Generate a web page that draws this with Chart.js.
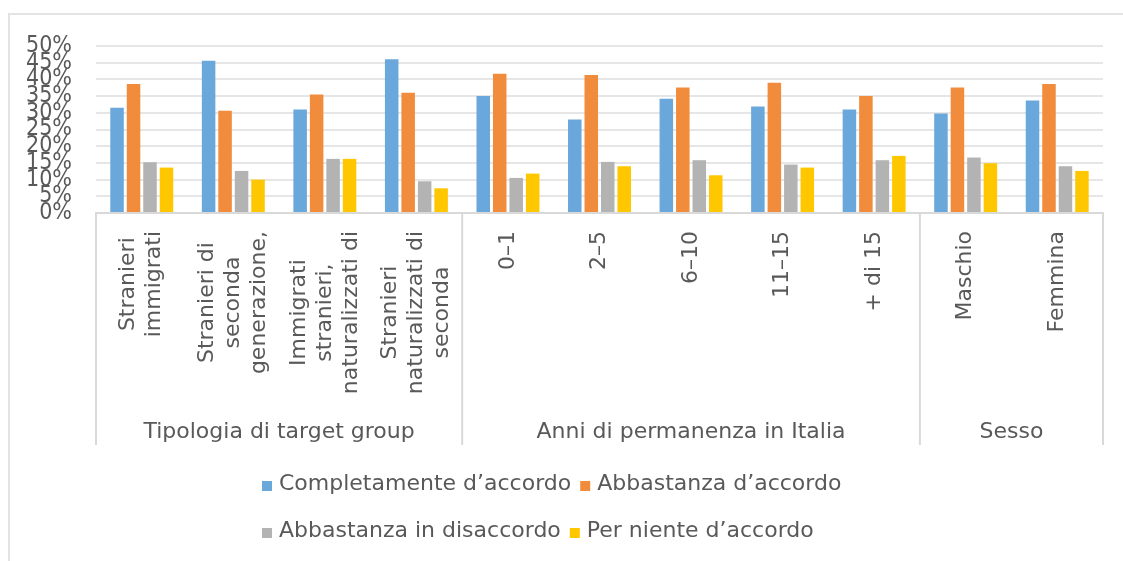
<!DOCTYPE html>
<html>
<head>
<meta charset="utf-8">
<title>Grado di accordo</title>
<script src="https://cdn.jsdelivr.net/npm/chart.js@4.4.1/dist/chart.umd.min.js"></script>
<style>
  html, body { margin: 0; padding: 0; background: #fff; }
  #wrap { width: 1123px; height: 561px; position: relative; }
</style>
</head>
<body>
<div id="wrap"><canvas id="chart" width="1123" height="561"></canvas></div>
<script>
// Categories (each label already split into the lines shown on the axis)
const categoryLines = [
  ["Stranieri", "immigrati"],
  ["Stranieri di", "seconda", "generazione,"],
  ["Immigrati", "stranieri,", "naturalizzati di"],
  ["Stranieri", "naturalizzati di", "seconda"],
  ["0–1"],
  ["2–5"],
  ["6–10"],
  ["11–15"],
  ["+ di 15"],
  ["Maschio"],
  ["Femmina"]
]
const categories = categoryLines.map((l) => l.join(" "))

// Outer grouping of the category axis
const groupLabels = ["Tipologia di target group", "Anni di permanenza in Italia", "Sesso"]
const groupSizes = [4, 5, 2]

// Series values (%)
const seriesNames = ["Completamente d’accordo", "Abbastanza d’accordo", "Abbastanza in disaccordo", "Per niente d’accordo"]
const completamente = [31.5, 45.6, 31.0, 46.0, 35.0, 28.0, 34.2, 31.9, 31.0, 29.8, 33.7]
const abbastanza = [38.6, 30.6, 35.5, 36.0, 41.7, 41.3, 37.6, 39.0, 35.0, 37.6, 38.6]
const disaccordo = [15.2, 12.6, 16.2, 9.5, 10.5, 15.3, 15.8, 14.5, 15.8, 16.6, 14.0]
const perNiente = [13.6, 10.0, 16.2, 7.4, 11.8, 14.0, 11.3, 13.6, 17.1, 14.9, 12.6]
const seriesColors = ["#6AA7DA", "#F28C3D", "#B3B3B3", "#FFC700"]

// Y axis ticks
const yMin = 0
const yMax = 50
const yStep = 5

const FONT = "'DejaVu Sans', sans-serif"
const TEXT = "#595959"
const LINE = "#d9d9d9"

// Draws the frame, the two-level category axis and the legend
const decorations = {
  id: "decorations",
  beforeDraw(chart) {
    const ctx = chart.ctx
    ctx.save()
    ctx.strokeStyle = "#e3e3e3"
    ctx.lineWidth = 2
    ctx.beginPath()
    ctx.moveTo(9, 561)
    ctx.lineTo(9, 14)
    ctx.lineTo(1123, 14)
    ctx.stroke()
    ctx.restore()
  },
  afterDraw(chart) {
    const ctx = chart.ctx
    const xs = chart.scales.x
    const area = chart.chartArea
    ctx.save()

    // category labels, rotated
    ctx.font = "22px " + FONT
    ctx.fillStyle = TEXT
    ctx.textAlign = "center"
    ctx.textBaseline = "middle"
    const top = 231
    const pitch = 26
    categoryLines.forEach((lines, i) => {
      const x = xs.getPixelForValue(i)
      const len = Math.max(...lines.map((t) => ctx.measureText(t).width))
      lines.forEach((t, j) => {
        const lx = x + (j - (lines.length - 1) / 2) * pitch
        ctx.save()
        ctx.translate(lx, top + len / 2)
        ctx.rotate(-Math.PI / 2)
        ctx.fillText(t, 0, 0)
        ctx.restore()
      })
    })

    // group boundaries and labels
    const bounds = [area.left]
    let idx = 0
    groupSizes.forEach((n, g) => {
      idx += n
      if (g < groupSizes.length - 1) {
        bounds.push((xs.getPixelForValue(idx - 1) + xs.getPixelForValue(idx)) / 2)
      } else {
        bounds.push(area.right)
      }
    })
    ctx.strokeStyle = LINE
    ctx.lineWidth = 2
    bounds.forEach((bx) => {
      ctx.beginPath()
      ctx.moveTo(bx, area.bottom)
      ctx.lineTo(bx, 445)
      ctx.stroke()
    })
    groupLabels.forEach((t, g) => {
      ctx.fillText(t, (bounds[g] + bounds[g + 1]) / 2, 432)
    })

    // legend, two rows
    const rows = [[0, 1], [2, 3]]
    const rowY = [484, 531]
    ctx.textAlign = "left"
    rows.forEach((row, r) => {
      let x = 262
      row.forEach((s) => {
        ctx.fillStyle = seriesColors[s]
        ctx.fillRect(x, rowY[r] - 3, 10, 10)
        ctx.fillStyle = TEXT
        ctx.fillText(seriesNames[s], x + 17, rowY[r])
        x += 17 + ctx.measureText(seriesNames[s]).width + 9
      })
    })
    ctx.restore()
  }
}

const data = [completamente, abbastanza, disaccordo, perNiente]

new Chart(document.getElementById("chart"), {
  type: "bar",
  data: {
    labels: categories,
    datasets: data.map((values, s) => ({
      label: seriesNames[s],
      data: values,
      backgroundColor: seriesColors[s],
      borderWidth: 0,
      categoryPercentage: 0.72,
      barPercentage: 0.82
    }))
  },
  options: {
    responsive: false,
    animation: false,
    layout: { padding: { top: 46, right: 20, bottom: 348, left: 0 } },
    plugins: {
      legend: { display: false },
      tooltip: { enabled: false }
    },
    scales: {
      x: {
        grid: { display: false, drawTicks: false },
        border: { display: true, color: LINE, width: 2 },
        ticks: { display: false }
      },
      y: {
        min: yMin,
        max: yMax,
        afterFit: (scale) => { scale.width = 96 },
        grid: { color: "#e6e6e6", lineWidth: 2, drawTicks: false },
        border: { display: false },
        ticks: {
          stepSize: yStep,
          autoSkip: false,
          padding: 24,
          color: TEXT,
          font: { family: "'DejaVu Sans Condensed', 'DejaVu Sans', sans-serif", size: 23 },
          callback: (v) => v + "%"
        }
      }
    }
  },
  plugins: [decorations]
})
</script>
</body>
</html>
